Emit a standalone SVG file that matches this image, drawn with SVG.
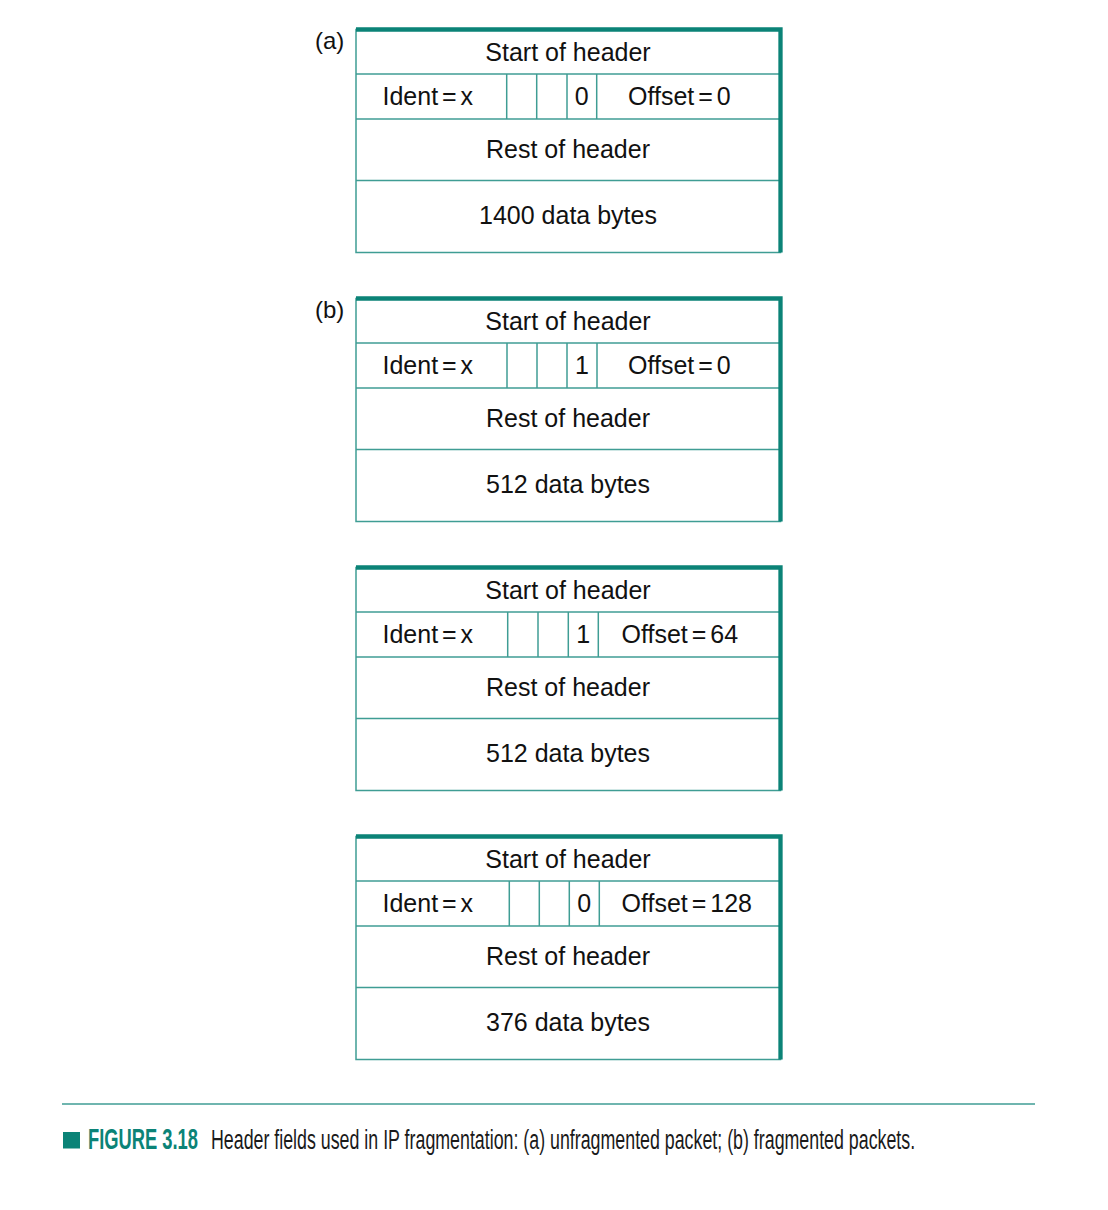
<svg xmlns="http://www.w3.org/2000/svg" width="1108" height="1210" viewBox="0 0 1108 1210">
<style>
.bg{fill:#ffffff}
.thin{fill:none;stroke:#3f9d94;stroke-width:1.5}
.thick{fill:none;stroke:#0b8377;stroke-width:4.3;stroke-linejoin:miter}
.t{font-family:"Liberation Sans",Arial,sans-serif;font-size:25px;fill:#111111}
.c{text-anchor:middle}
.lbl{font-family:"Liberation Sans",Arial,sans-serif;font-size:24px;fill:#111111}
.cap{font-family:"Liberation Sans",Arial,sans-serif;font-size:28px;fill:#1a1a1a}
.capb{font-family:"Liberation Sans",Arial,sans-serif;font-size:29px;font-weight:bold;fill:#0b8377}
</style>
<defs>
<g id="frame">
<rect class="thin" x="356" y="0" width="424.5" height="223"/>
<line class="thin" x1="356" y1="44.5" x2="780.5" y2="44.5"/>
<line class="thin" x1="356" y1="89.5" x2="780.5" y2="89.5"/>
<line class="thin" x1="356" y1="151" x2="780.5" y2="151"/>
<path class="thick" d="M356,0 H780.5 V223"/>
<text class="t c" x="568" y="31">Start of header</text>
<text class="t" x="382.5" y="75.5" word-spacing="-3">Ident = x</text>
<text class="t c" x="568" y="128">Rest of header</text>
</g>
</defs>
<rect class="bg" x="0" y="0" width="1108" height="1210"/>

<text class="lbl" x="315" y="49">(a)</text>
<g id="packet-a" transform="translate(0,29.5)">
<use href="#frame"/>
<line class="thin" x1="506.7" y1="44.5" x2="506.7" y2="89.5"/>
<line class="thin" x1="536.7" y1="44.5" x2="536.7" y2="89.5"/>
<line class="thin" x1="567" y1="44.5" x2="567" y2="89.5"/>
<line class="thin" x1="596.7" y1="44.5" x2="596.7" y2="89.5"/>
<text class="t c" x="581.8" y="75.5">0</text>
<text class="t" x="628" y="75.5" word-spacing="-3">Offset = 0</text>
<text class="t c" x="568" y="194.5">1400 data bytes</text>
</g>

<text class="lbl" x="315" y="318">(b)</text>
<g id="packet-b1" transform="translate(0,298.5)">
<use href="#frame"/>
<line class="thin" x1="507" y1="44.5" x2="507" y2="89.5"/>
<line class="thin" x1="537" y1="44.5" x2="537" y2="89.5"/>
<line class="thin" x1="567" y1="44.5" x2="567" y2="89.5"/>
<line class="thin" x1="597" y1="44.5" x2="597" y2="89.5"/>
<text class="t c" x="582" y="75.5">1</text>
<text class="t" x="628" y="75.5" word-spacing="-3">Offset = 0</text>
<text class="t c" x="568" y="194.5">512 data bytes</text>
</g>

<g id="packet-b2" transform="translate(0,567.5)">
<use href="#frame"/>
<line class="thin" x1="507.7" y1="44.5" x2="507.7" y2="89.5"/>
<line class="thin" x1="538" y1="44.5" x2="538" y2="89.5"/>
<line class="thin" x1="568.3" y1="44.5" x2="568.3" y2="89.5"/>
<line class="thin" x1="598.3" y1="44.5" x2="598.3" y2="89.5"/>
<text class="t c" x="583.3" y="75.5">1</text>
<text class="t" x="621.5" y="75.5" word-spacing="-3">Offset = 64</text>
<text class="t c" x="568" y="194.5">512 data bytes</text>
</g>

<g id="packet-b3" transform="translate(0,836.5)">
<use href="#frame"/>
<line class="thin" x1="509.3" y1="44.5" x2="509.3" y2="89.5"/>
<line class="thin" x1="539.3" y1="44.5" x2="539.3" y2="89.5"/>
<line class="thin" x1="569.3" y1="44.5" x2="569.3" y2="89.5"/>
<line class="thin" x1="599.3" y1="44.5" x2="599.3" y2="89.5"/>
<text class="t c" x="584.3" y="75.5">0</text>
<text class="t" x="621.5" y="75.5" word-spacing="-3">Offset = 128</text>
<text class="t c" x="568" y="194.5">376 data bytes</text>
</g>

<g id="caption">
<line x1="62" y1="1104" x2="1035" y2="1104" stroke="#3f9d94" stroke-width="1.6"/>
<rect x="63" y="1132" width="17" height="16.5" fill="#0b8377"/>
<text class="capb" transform="translate(88,1148.5) scale(0.632,1)" x="0" y="0">FIGURE 3.18</text>
<text class="cap" transform="translate(211,1148.5) scale(0.636,1)" x="0" y="0">Header fields used in IP fragmentation: (a) unfragmented packet; (b) fragmented packets.</text>
</g>
</svg>
